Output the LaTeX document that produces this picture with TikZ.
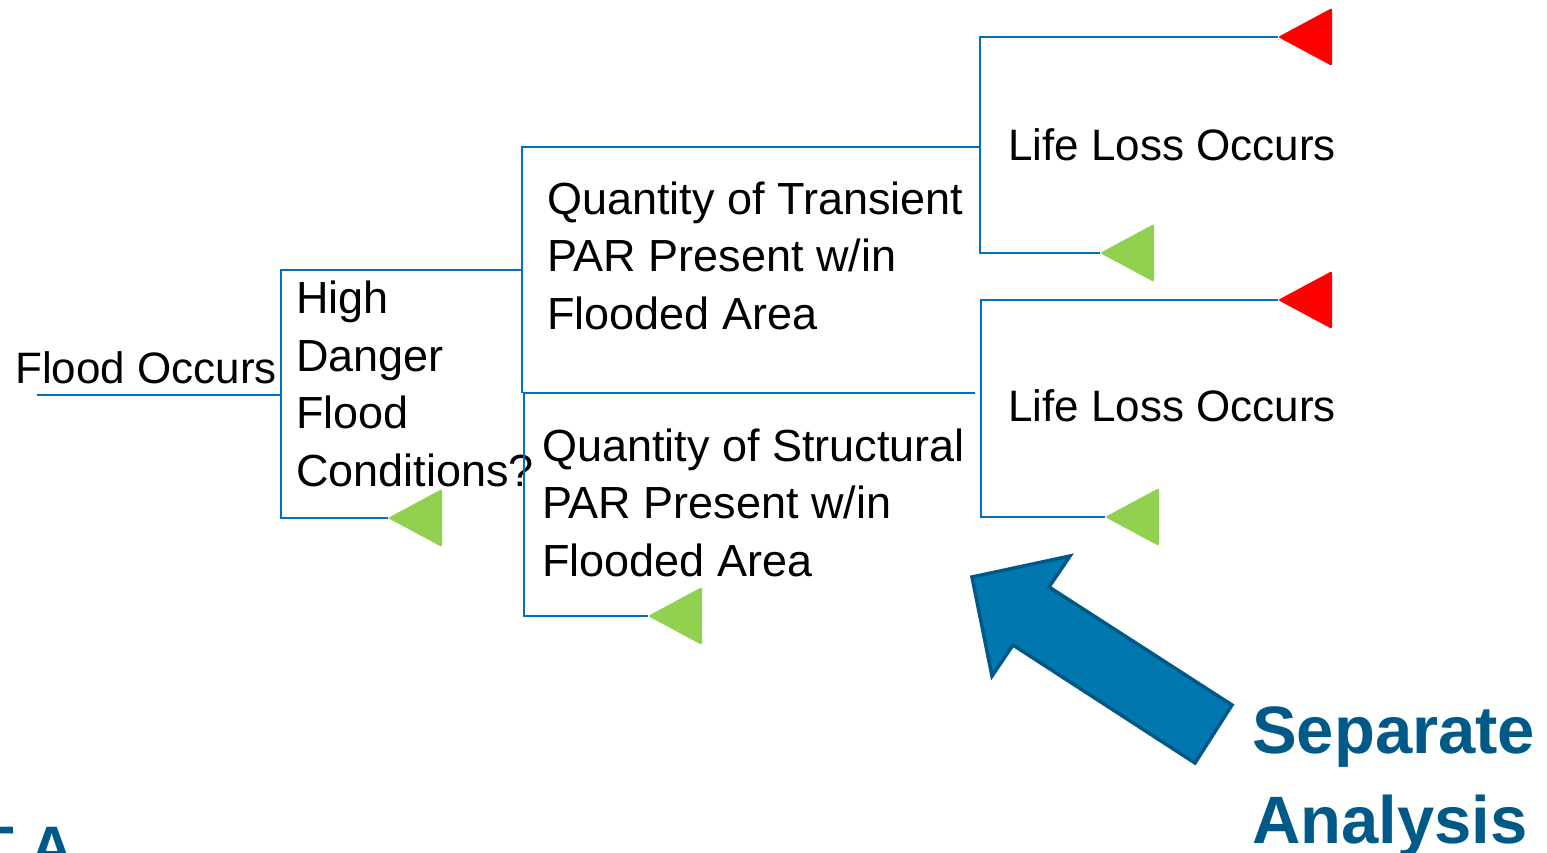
\documentclass[tikz,border=0pt]{standalone}
\usepackage{fontspec}
\setmainfont{Liberation Sans}
\definecolor{branch}{RGB}{0,112,192}
\definecolor{gtri}{RGB}{146,208,80}
\definecolor{rtri}{RGB}{255,0,0}
\definecolor{arrfill}{RGB}{0,119,175}
\definecolor{arrline}{RGB}{0,88,135}
\definecolor{sepcol}{RGB}{0,90,135}
\begin{document}
\begin{tikzpicture}[x=1pt,y=-1pt,
  txt/.style={inner sep=0pt, anchor=base west, align=left, text=black,
    font=\fontsize{45}{57.5}\selectfont},
  txtsm/.style={txt, font=\fontsize{44}{57.5}\selectfont},
  br/.style={draw=branch, line width=1.6pt, line join=miter},
  sepstyle/.style={inner sep=0pt, anchor=base west, align=left, text=sepcol,
    font=\bfseries\fontsize{67}{90}\selectfont},
  bigarrow/.style={fill=arrfill, draw=arrline, line width=3.5pt, line join=miter},
  pics/tri/.style={code={\fill[#1, rounded corners=2pt] (0,0) -- (54,-29) -- (54,29) -- cycle;}}
]
\useasboundingbox (0,0) rectangle (1547,852);
\clip (0,0) rectangle (1547,852);

% texts (multi-line nodes are anchored at the baseline of their last line)
\node[txtsm] (flood) at (15,383) {Flood Occurs};
\node[txt] (hdfc) at (296,486) {High\\Danger\\Flood\\Conditions?};
\node[txt] (trans) at (547,329) {Quantity of Transient\\PAR Present w/in\\Flooded Area};
\node[txt] (struct) at (542,576) {Quantity of Structural\\PAR Present w/in\\Flooded Area};
\node[txtsm] (ll1) at (1008,160) {Life Loss Occurs};
\node[txtsm] (ll2) at (1008,421) {Life Loss Occurs};
\node[sepstyle] (sep) at (1252,843) {Separate\\Analysis};
\node[inner sep=0pt, anchor=base west, text=sepcol, font=\bfseries\fontsize{60}{60}\selectfont] (logo) at (-23,868) {T A};

% coordinates
\coordinate (s0) at (37,395);
\coordinate (a1) at (281,395);
\coordinate (a1t) at (281,270);
\coordinate (a1b) at (281,518);
\coordinate (a1tr) at (521,270);
\coordinate (g1) at (388,518);
\coordinate (b1t) at (522,147);
\coordinate (b1b) at (522,393);
\coordinate (b1tr) at (980,147);
\coordinate (b2t) at (524,393);
\coordinate (b2tr) at (975,393);
\coordinate (b2b) at (524,616);
\coordinate (g2) at (648,616);
\coordinate (c1t) at (980,37);
\coordinate (c1b) at (980,253);
\coordinate (r1) at (1278,37);
\coordinate (g3) at (1100,253);
\coordinate (c2t) at (981,300);
\coordinate (c2b) at (981,517);
\coordinate (r2) at (1278,300);
\coordinate (g4) at (1105,517);

% branches
\draw[br] (s0) -- (a1);
\draw[br] (a1tr) -- (a1t) -- (a1b) -- (g1);
\draw[br] (b1tr) -- (b1t) -- (b1b);
\draw[br] (b2tr) -- (b2t) -- (b2b) -- (g2);
\draw[br] (r1) -- (c1t) -- (c1b) -- (g3);
\draw[br] (r2) -- (c2t) -- (c2b) -- (g4);

% triangles
\pic at (g1) {tri=gtri};
\pic at (g2) {tri=gtri};
\pic at (g3) {tri=gtri};
\pic at (g4) {tri=gtri};
\pic at (r1) {tri=rtri};
\pic at (r2) {tri=rtri};

% big arrow
\draw[bigarrow] (972,577) -- (1070,556) -- (1049,587) -- (1232,705) -- (1195,763) -- (1013,645) -- (992,676) -- cycle;
\end{tikzpicture}
\end{document}
